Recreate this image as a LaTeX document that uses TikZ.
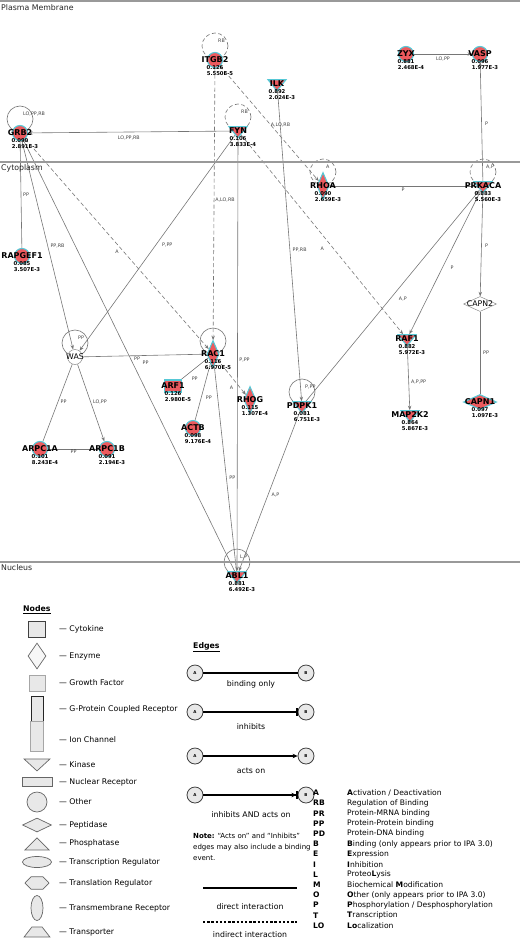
\documentclass[tikz,border=0pt]{standalone}
\usepackage{fontspec}
\setmainfont{DejaVu Sans}
\usetikzlibrary{arrows.meta, positioning, calc, shapes.geometric, backgrounds}
\definecolor{genered}{RGB}{236,90,94}
\definecolor{genecyan}{RGB}{86,200,214}
\definecolor{lnkgray}{RGB}{118,118,118}
\definecolor{leggray}{RGB}{232,232,232}
\tikzset{
  gen/.style={fill=genered, draw=genecyan, line width=1.1pt, inner sep=0pt},
  oth/.style={gen, circle, minimum size=15},
  kin/.style={gen, isosceles triangle, isosceles triangle stretches, shape border rotate=-90, minimum width=18, minimum height=11},
  enz/.style={gen, diamond, minimum width=12, minimum height=27},
  pep/.style={gen, diamond, minimum width=33, minimum height=15},
  gfac/.style={gen, rectangle, minimum width=17, minimum height=12},
  wht/.style={fill=white, draw=black!45, line width=0.5pt},
  gname/.style={font=\bfseries\fontsize{8}{8}\selectfont, inner sep=0pt},
  gnamer/.style={font=\fontsize{7.8}{8}\selectfont, inner sep=0pt},
  gval/.style={font=\bfseries\fontsize{5.3}{5.3}\selectfont, inner sep=0pt},
  lnk/.style={draw=lnkgray, line width=0.6pt},
  tra/.style={lnk, -{Stealth[length=4.5pt, width=3.4pt]}},
  ind/.style={dash pattern=on 4pt off 2.5pt},
  elab/.style={font=\fontsize{4.8}{5}\selectfont, inner sep=0pt, text=black!75},
  lp/.style={circle, draw=lnkgray, line width=0.6pt, minimum size=26, inner sep=0pt},
  reg/.style={draw=black!40, line width=1.2pt},
  rlab/.style={font=\fontsize{7.8}{8}\selectfont, anchor=west, inner sep=0pt, text=black!85},
  lg/.style={fill=leggray, draw=black!60, line width=0.7pt, inner sep=0pt},
  ltxt/.style={font=\fontsize{7.8}{9}\selectfont, anchor=west, inner sep=0pt},
  ltxc/.style={font=\fontsize{7.8}{9}\selectfont, inner sep=0pt},
  lhd/.style={font=\bfseries\fontsize{7.8}{9}\selectfont, anchor=west, inner sep=0pt},
  lgab/.style={circle, draw=black!75, fill=leggray, line width=0.8pt, minimum size=16, inner sep=0pt, font=\bfseries\fontsize{4}{4}\selectfont},
  lgedge/.style={draw=black, line width=1.2pt},
  abk/.style={font=\bfseries\fontsize{7.6}{8}\selectfont, anchor=west, inner sep=0pt},
  abd/.style={font=\fontsize{7.6}{8}\selectfont, anchor=west, inner sep=0pt}
}
\newcommand{\gtext}[4]{%
  \node[gname] (#1t) at (#1) {#2};
  \node[gval] (#1a) at ($(#1)+(0,8)$) {#3};
  \node[gval] (#1b) at ($(#1)+(5,14)$) {#4};}
\newcommand{\gloop}[3]{%
  \node[lp, #2] (#1l) at ($(#1)+(0,-14)$) {};
  \node[elab, anchor=west] (#1m) at ($(#1)+(3,-19)$) {#3};}

\begin{document}
\begin{tikzpicture}[x=1pt, y=-1pt]
  \useasboundingbox (0,0) rectangle (520,939);
  % compartments
  \draw[reg, line width=2pt] (0,1.2) -- (520,1.2);
  \draw[reg] (0,162) -- (520,162);
  \draw[reg] (0,562) -- (520,562);
  \node[rlab] (pm) at (1,7.5) {Plasma Membrane};
  \node[rlab] (cy) at (1,168.5) {Cytoplasm};
  \node[rlab] (nu) at (1,567.5) {Nucleus};
  % genes
  \node[oth] (itgb2) at (215,60) {};
  \node[oth] (grb2) at (20,133) {};
  \node[kin] (fyn) at (238,131) {};
  \node[kin] (ilk) at (277,84) {};
  \node[oth] (zyx) at (406,54) {};
  \node[oth] (vasp) at (480,54) {};
  \node[enz] (rhoa) at (323,186) {};
  \node[kin] (prkaca) at (483,186) {};
  \node[oth] (rapgef1) at (22,256) {};
  \node[pep, wht] (capn2) at (480,304) {};
  \node[kin] (raf1) at (407,339) {};
  \node[oth, wht] (was) at (75,357) {};
  \node[enz] (rac1) at (213,354) {};
  \node[gfac] (arf1) at (173,386) {};
  \node[oth] (actb) at (193,428) {};
  \node[enz] (rhog) at (250,400) {};
  \node[kin] (pdpk1) at (302,406) {};
  \node[kin] (map2k2) at (410,415) {};
  \node[pep] (capn1) at (480,402) {};
  \node[oth] (arpc1a) at (40,449) {};
  \node[oth] (arpc1b) at (107,449) {};
  \node[kin] (abl1) at (237,576) {};
  % gene labels
  \gtext{itgb2}{ITGB2}{0.126}{5.550E-5}
  \gtext{grb2}{GRB2}{0.090}{2.891E-3}
  \gtext{fyn}{FYN}{0.106}{3.833E-4}
  \gtext{ilk}{ILK}{0.892}{2.024E-3}
  \gtext{zyx}{ZYX}{0.881}{2.468E-4}
  \gtext{vasp}{VASP}{0.096}{1.977E-3}
  \gtext{rhoa}{RHOA}{0.090}{2.659E-3}
  \gtext{prkaca}{PRKACA}{0.883}{5.560E-3}
  \gtext{rapgef1}{RAPGEF1}{0.085}{3.507E-3}
  \gtext{raf1}{RAF1}{0.882}{5.972E-3}
  \gtext{rac1}{RAC1}{0.116}{6.970E-5}
  \gtext{arf1}{ARF1}{0.126}{2.980E-5}
  \gtext{actb}{ACTB}{0.098}{9.176E-4}
  \gtext{rhog}{RHOG}{0.115}{1.307E-4}
  \gtext{pdpk1}{PDPK1}{0.081}{6.751E-3}
  \gtext{map2k2}{MAP2K2}{0.864}{5.867E-3}
  \gtext{capn1}{CAPN1}{0.097}{1.097E-3}
  \gtext{arpc1a}{ARPC1A}{0.101}{8.243E-4}
  \gtext{arpc1b}{ARPC1B}{0.091}{2.194E-3}
  \gtext{abl1}{ABL1}{0.881}{6.492E-3}
  \node[gnamer] (wast) at (was) {WAS};
  \node[gnamer] (capn2t) at (capn2) {CAPN2};
  \begin{pgfonlayer}{background}
    % self loops
    \gloop{itgb2}{ind}{RB}
    \gloop{grb2}{}{LO,PP,RB}
    \gloop{fyn}{ind}{RB}
    \gloop{rhoa}{ind}{A}
    \gloop{prkaca}{ind}{A,P}
    \gloop{was}{}{PP}
    \node[lp] (rac1l) at ($(rac1)+(0,-13)$) {};
    \gloop{pdpk1}{}{P,PP}
    \gloop{abl1}{}{L,P}
    % edges
    \draw[tra] (fyn) -- node[elab, xshift=-1, yshift=-6] {LO,PP,RB} (grb2);
    \draw[tra] (zyx) -- node[elab, yshift=-5] {LO,PP} (vasp);
    \draw[tra] (prkaca) -- node[elab, xshift=5, yshift=-2] {P} (vasp);
    \draw[tra] (prkaca) -- node[elab, yshift=-4] {P} (rhoa);
    \draw[tra] (prkaca) -- node[elab, xshift=5, yshift=-1] {P} (capn2);
    \draw[lnk] (capn2) -- node[elab, xshift=6] {PP} (capn1);
    \draw[tra] (prkaca) -- node[elab, xshift=7, yshift=-5] {P} (raf1);
    \draw[tra, ind] (fyn) -- node[elab, yshift=-14] {A} (raf1);
    \draw[tra] (raf1) -- node[elab, xshift=10, yshift=-4] {A,P,PP} (map2k2);
    \draw[tra] (ilk) -- node[elab, xshift=10, yshift=-4] {PP,RB} (pdpk1);
    \draw[tra] (pdpk1) -- node[elab, xshift=10, yshift=-3] {A,P} (prkaca);
    \draw[tra] (pdpk1) -- node[elab, xshift=6, yshift=-4] {A,P} (abl1);
    \draw[tra] (fyn) -- node[elab, xshift=7, yshift=-5] {P,PP} (abl1);
    \draw[lnk] (rac1) -- node[elab, xshift=7, yshift=-9] {PP} (abl1);
    \draw[lnk] (grb2) -- node[elab, xshift=8, yshift=-3] {PP} (abl1);
    \draw[tra] (grb2) -- node[elab, xshift=10, yshift=-1] {PP,RB} (was);
    \draw[tra, ind] (grb2) -- node[elab, yshift=-8] {A} (rac1);
    \draw[tra] (fyn) -- node[elab, xshift=10, yshift=-2] {P,PP} (was);
    \draw[tra, ind] (itgb2) -- node[elab, xshift=11, yshift=4] {A,LO,RB} (rac1);
    \draw[tra, ind] (itgb2) -- node[elab, xshift=11, yshift=-1] {A,LO,RB} (rhoa);
    \draw[lnk] (was) -- node[elab, xshift=1, yshift=-7] {PP} (rac1);
    \draw[lnk] (was) -- node[elab, xshift=6, yshift=1] {PP} (arpc1a);
    \draw[tra] (was) -- node[elab, xshift=9, yshift=1] {LO,PP} (arpc1b);
    \draw[lnk] (arpc1a) -- node[elab, yshift=-3] {PP} (arpc1b);
    \draw[lnk] (rac1) -- node[elab, yshift=-10] {PP} (arf1);
    \draw[lnk] (rac1) -- node[elab, xshift=6, yshift=-6] {PP} (actb);
    \draw[tra, ind] (rac1) -- node[elab, yshift=-11] {A} (rhog);
    \draw[lnk] (grb2) -- node[elab, xshift=5] {PP} (rapgef1);
  \end{pgfonlayer}
  % legend: nodes
  \node[lhd] (nodhd) at (23,610) {\underline{Nodes}};
  \node[lg, rectangle, minimum width=17, minimum height=16, draw=black!75] (lcyt) at (37,629) {};
  \node[lg, diamond, minimum width=18, minimum height=26, fill=black!3] (lenz) at (37,656) {};
  \node[lg, rectangle, minimum width=16, minimum height=16, draw=black!35] (lgro) at (37,683) {};
  \node[lg, rectangle, minimum width=12, minimum height=26, draw=black!85, line width=0.9pt] (lgpc) at (37,709) {};
  \node[lg, rectangle, minimum width=13, minimum height=30, draw=black!35] (lion) at (37,736) {};
  \node[lg, isosceles triangle, isosceles triangle stretches, shape border rotate=-90, minimum width=26, minimum height=12] (lkin) at (37,764) {};
  \node[lg, rectangle, minimum width=30, minimum height=9] (lnuc) at (37,782) {};
  \node[lg, circle, minimum size=20] (loth) at (37,802) {};
  \node[lg, diamond, minimum width=29, minimum height=14] (lpep) at (37,825) {};
  \node[lg, isosceles triangle, isosceles triangle stretches, shape border rotate=90, minimum width=24, minimum height=12] (lpho) at (37,845) {};
  \node[lg, ellipse, minimum width=29, minimum height=11] (ltrc) at (37,862) {};
  \node[lg, regular polygon, regular polygon sides=6, minimum size=24, yscale=0.6] (ltrl) at (37,883) {};
  \node[lg, ellipse, minimum width=12, minimum height=25] (ltmr) at (37,908) {};
  \node[lg, trapezium, trapezium angle=52, inner sep=0.5pt, minimum width=26, minimum height=9] (ltrp) at (37,932) {};
  \node[ltxt] (tcyt) at (59,629) {— Cytokine};
  \node[ltxt] (tenz) at (59,656) {— Enzyme};
  \node[ltxt] (tgro) at (59,683) {— Growth Factor};
  \node[ltxt] (tgpc) at (59,709) {— G-Protein Coupled Receptor};
  \node[ltxt] (tion) at (59,740) {— Ion Channel};
  \node[ltxt] (tkin) at (59,765) {— Kinase};
  \node[ltxt] (tnuc) at (59,782) {— Nuclear Receptor};
  \node[ltxt] (toth) at (59,802) {— Other};
  \node[ltxt] (tpep) at (59,825) {— Peptidase};
  \node[ltxt] (tpho) at (59,843) {— Phosphatase};
  \node[ltxt] (ttrc) at (59,862) {— Transcription Regulator};
  \node[ltxt] (ttrl) at (59,883) {— Translation Regulator};
  \node[ltxt] (ttmr) at (59,908) {— Transmembrane Receptor};
  \node[ltxt] (ttrp) at (59,932) {— Transporter};
  % legend: edges
  \node[lhd] (edghd) at (193,647) {\underline{Edges}};
  \node[lgab] (ea1) at (195,673) {A};
  \node[lgab] (eb1) at (306,673) {B};
  \draw[lgedge] (ea1) -- (eb1);
  \node[ltxc] (et1) at (251,684) {binding only};
  \node[lgab] (ea2) at (195,712) {A};
  \node[lgab] (eb2) at (306,712) {B};
  \draw[lgedge, -{Bar[width=8pt]}] (ea2) -- (eb2);
  \node[ltxc] (et2) at (251,727) {inhibits};
  \node[lgab] (ea3) at (195,756) {A};
  \node[lgab] (eb3) at (306,756) {B};
  \draw[lgedge, -{Stealth[length=5pt, width=4.5pt]}] (ea3) -- (eb3);
  \node[ltxc] (et3) at (251,771) {acts on};
  \node[lgab] (ea4) at (195,795) {A};
  \node[lgab] (eb4) at (306,795) {B};
  \draw[lgedge, -{Stealth[length=5pt, width=4.5pt] Bar[width=8pt]}] (ea4) -- (eb4);
  \node[ltxc] (et4) at (251,815) {inhibits AND acts on};
  \node[ltxt, anchor=north west, align=left, font=\fontsize{7}{10.8}\selectfont] (note) at (193,833)
    {\textbf{Note:} ``Acts on'' and ``Inhibits''\\edges may also include a binding\\event.};
  \coordinate (dl1) at (203,888);
  \coordinate (dl2) at (297,888);
  \draw[lgedge] (dl1) -- (dl2);
  \node[ltxc] (dlt) at (250,907) {direct interaction};
  \coordinate (il1) at (203,922);
  \coordinate (il2) at (297,922);
  \draw[lgedge, dash pattern=on 2.4pt off 1.8pt] (il1) -- (il2);
  \node[ltxc] (ilt) at (250,935) {indirect interaction};
  % legend: abbreviations
  \node[abk] (kA) at (313,793) {A};
  \node[abk] (kRB) at (313,803.2) {RB};
  \node[abk] (kPR) at (313,813.4) {PR};
  \node[abk] (kPP) at (313,823.6) {PP};
  \node[abk] (kPD) at (313,833.8) {PD};
  \node[abk] (kB) at (313,844) {B};
  \node[abk] (kE) at (313,854.2) {E};
  \node[abk] (kI) at (313,864.4) {I};
  \node[abk] (kL) at (313,874.6) {L};
  \node[abk] (kM) at (313,884.8) {M};
  \node[abk] (kO) at (313,895) {O};
  \node[abk] (kP) at (313,905.2) {P};
  \node[abk] (kT) at (313,915.4) {T};
  \node[abk] (kLO) at (313,925.6) {LO};
  \node[abd] (dA) at (347,793) {\textbf{A}ctivation / Deactivation};
  \node[abd] (dRB) at (347,803.2) {Regulation of Binding};
  \node[abd] (dPR) at (347,813.4) {Protein-MRNA binding};
  \node[abd] (dPP) at (347,823.6) {Protein-Protein binding};
  \node[abd] (dPD) at (347,833.8) {Protein-DNA binding};
  \node[abd] (dB) at (347,844) {\textbf{B}inding (only appears prior to IPA 3.0)};
  \node[abd] (dE) at (347,854.2) {\textbf{E}xpression};
  \node[abd] (dI) at (347,864.4) {\textbf{I}nhibition};
  \node[abd] (dL) at (347,874.6) {Proteo\textbf{L}ysis};
  \node[abd] (dM) at (347,884.8) {Biochemical \textbf{M}odification};
  \node[abd] (dO) at (347,895) {\textbf{O}ther (only appears prior to IPA 3.0)};
  \node[abd] (dP) at (347,905.2) {\textbf{P}hosphorylation / Desphosphorylation};
  \node[abd] (dT) at (347,915.4) {\textbf{T}ranscription};
  \node[abd] (dLO) at (347,925.6) {\textbf{Lo}calization};
\end{tikzpicture}
\end{document}
